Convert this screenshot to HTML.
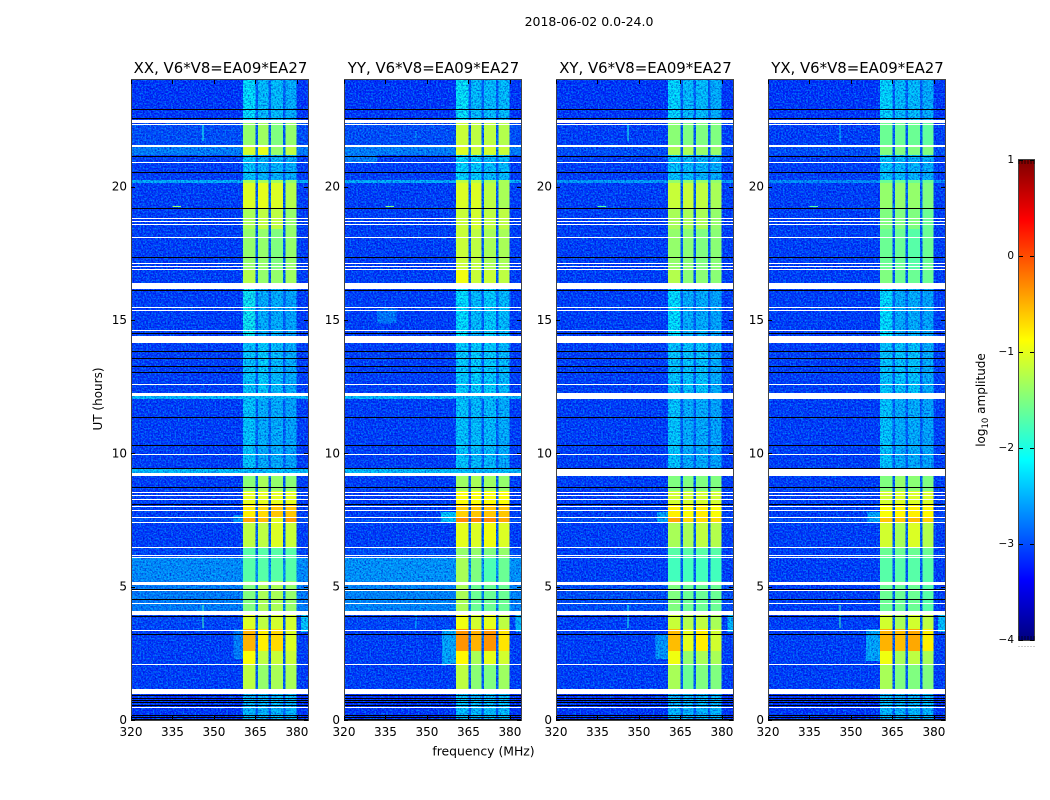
<!DOCTYPE html>
<html lang="en">
<head>
<meta charset="utf-8">
<title>2018-06-02 0.0-24.0</title>
<style>
  html, body { margin: 0; padding: 0; background: #fff; }
  svg { display: block; font-family: "DejaVu Sans", "Liberation Sans", sans-serif; fill: #000; }
  text { fill: #000; }
</style>
</head>
<body>
<svg id="chart" xmlns="http://www.w3.org/2000/svg" width="1050" height="800" viewBox="0 0 1050 800">
  <defs>
    <filter id="grain-dark" x="0" y="0" width="100%" height="100%">
      <feTurbulence type="fractalNoise" baseFrequency="0.6" numOctaves="2" seed="7"/>
      <feColorMatrix type="matrix" values="0 0 0 0 0  0 0 0 0 0  0 0 0 0 0.55  3 0 0 0 -1.2"/>
    </filter>
    <filter id="grain-light" x="0" y="0" width="100%" height="100%">
      <feTurbulence type="fractalNoise" baseFrequency="0.6" numOctaves="2" seed="23"/>
      <feColorMatrix type="matrix" values="0 0 0 0 0  0 0 0 0 0.7  0 0 0 0 1  3 0 0 0 -1.25"/>
    </filter>
  </defs>
  <rect width="1050" height="800" fill="#fff"/>
  <text x="589" y="26" font-size="12.5" text-anchor="middle">2018-06-02 0.0-24.0</text>
  <text x="483.500" y="755.500" font-size="12.4" text-anchor="middle">frequency (MHz)</text>
  <text transform="translate(102,399) rotate(-90)" font-size="12" text-anchor="middle">UT (hours)</text>
  <text transform="translate(985,400) rotate(-90)" font-size="12" text-anchor="middle">log<tspan font-size="8.500" dy="3">10</tspan><tspan dy="-3"> amplitude</tspan></text>
  <g id="panels"></g>
  <g id="colorbar"></g>
</svg>
<script>
// ---- chart data ----
var panelNames = ["XX", "YY", "XY", "YX"];
var baselineTitle = "V6*V8=EA09*EA27";
var freqTicks = [320, 335, 350, 365, 380];
var hourTicks = [0, 5, 10, 15, 20];
var colorbarTicks = [1, 0, -1, -2, -3, -4];
var colorbarLabels = ["1", "0", "\u22121", "\u22122", "\u22123", "\u22124"];
var freqRange = [320, 384];
var hourRange = [0, 24];
var levelRange = [-4, 1];
var gapLevel = -2.95;
var smoothLevel = -1.9;

// subband limits in MHz
var subbandStart = [360.5, 366, 370.7, 375.9];
var subbandEnd = [365, 369.8, 375, 379.8];

// UT row limits in hours, lowest row first
var rowEdges = [0, 1.15, 2.1, 2.6, 3.4, 4.1, 5.2, 6.1, 6.5, 7.4, 7.6, 8.05, 8.6, 9.27, 9.4, 12.05, 12.16, 14.15, 16.4, 16.9, 18.4, 19.2, 20.15, 20.25, 21.2, 21.5, 22.5, 24];

// log10 amplitude per row: background, subband 1..4 (null = flagged)
var levelsXX = [
  [-3.2,-2.4,-2.4,-2.4,-2.4],[-3.15,-1.2,-1.4,-1.3,-1.3],[-3.15,-0.9,-1.2,-1.15,-1.15],[-3.15,-0.5,-0.8,-0.7,-1.05],
  [-3.1,-1.05,-1.2,-1.1,-1.1],[-2.75,-1.5,-1.3,-1.3,-1.4],[-2.65,-1.7,-1.7,-1.7,-1.7],[-3.1,-1.7,-1.7,-1.7,-1.7],
  [-3.15,-1.2,-1.2,-1.05,-1.15],[-3.05,-0.45,-0.55,-1,-0.4],[-3.15,-0.8,-0.7,-0.6,-0.6],[-3.15,-1,-1,-1,-1],
  [-3.15,-1.45,-1.3,-1.4,-1.45],[-2.35,-2.35,-2.35,-2.35,-2.35],[-3.15,-2.3,-2.45,-2.45,-2.5],[-2.35,-2.35,-2.35,-2.35,-2.35],
  [-3.15,-2.3,-2.25,-2.35,-2.45],[-3.15,-2.05,-2.45,-2.45,-2.5],[-3.15,-1.25,-1.4,-1.4,-1.35],[-3.15,-1.4,-1.4,-1.5,-1.4],
  [-3.15,-1.3,-1.2,-1.2,-1.4],[-3.15,-1.05,-1,-1.05,-1.25],[-2.45,-1.3,-1.3,-1.3,-1.4],[-3.15,-2.3,-2.4,-2.4,-2.45],
  [-2.75,-1.1,-1,-1.4,-1.2],[-3.05,-1.4,-1.35,-1.5,-1.4],[-3.2,-2.15,-2.35,-2.35,-2.45]
];
var levelsYY = [
  [-3.2,-2.35,-2.35,-2.35,-2.35],[-3.15,-1.2,-1.45,-1.5,-1.35],[-3.15,-0.85,-1.3,-1,-1.1],[-3.15,-0.35,-0.5,-0.35,-0.75],
  [-3.1,-0.95,-1.1,-1,-1.2],[-2.7,-1.3,-1.6,-1.6,-1.6],[-2.6,-1.3,-1.5,-1.75,-1.6],[-3.05,-1.4,-1.4,-1.5,-1.4],
  [-3.15,-1,-1.05,-0.95,-1.05],[-3.05,-0.3,-0.3,-0.3,-0.45],[-3.15,-0.65,-0.6,-0.6,-0.6],[-3.15,-0.9,-0.9,-0.9,-0.9],
  [-3.15,-1.35,-1.3,-1.35,-1.4],[-2.35,-2.35,-2.35,-2.35,-2.35],[-3.15,-2.3,-2.35,-2.35,-2.45],[-2.35,-2.35,-2.35,-2.35,-2.35],
  [-3.15,-2.25,-2.25,-2.25,-2.35],[-3.15,-2.15,-2.35,-2.25,-2.35],[-3.15,-0.95,-1.15,-1.15,-1.2],[-3.15,-1.15,-1.2,-1.3,-1.3],
  [-3.15,-1.15,-1.1,-1.2,-1.2],[-3.15,-1.05,-1.05,-1.2,-1.3],[-2.45,-1.2,-1.2,-1.3,-1.3],[-3.15,-2.2,-2.25,-2.35,-2.35],
  [-2.75,-1.05,-1.15,-1.1,-1.15],[-3.05,-1.15,-1.2,-1.2,-1.25],[-3.2,-2.1,-2.35,-2.35,-2.35]
];
var levelsXY = [
  [-3.2,-2.4,-2.4,-2.4,-2.4],[-3.15,-1.3,-1.6,-1.5,-1.5],[-3.15,-0.95,-1.4,-1.3,-1.3],[-3.15,-0.55,-1,-0.8,-1.1],
  [-3.15,-1.15,-1.25,-1.2,-1.3],[-3.05,-1.5,-1.6,-1.6,-1.6],[-3.15,-1.8,-1.8,-1.8,-1.8],[-3.15,-1.7,-1.7,-1.7,-1.7],
  [-3.15,-1.3,-1.3,-1.2,-1.25],[-3.05,-0.45,-0.7,-0.7,-0.7],[-3.15,-0.8,-0.9,-0.8,-0.9],[-3.15,-1.1,-1.1,-1.1,-1.1],
  [-3.15,-1.5,-1.5,-1.5,-1.5],[null,null,null,null,null],[-3.15,-2.3,-2.45,-2.45,-2.5],[null,null,null,null,null],
  [-3.15,-2.3,-2.3,-2.3,-2.45],[-3.15,-2.15,-2.45,-2.45,-2.5],[-3.15,-1.25,-1.45,-1.45,-1.45],[-3.15,-1.4,-1.45,-1.5,-1.45],
  [-3.15,-1.3,-1.3,-1.3,-1.4],[-3.15,-1.15,-1.15,-1.2,-1.3],[-2.55,-1.4,-1.4,-1.4,-1.4],[-3.15,-2.3,-2.35,-2.4,-2.45],
  [-3.05,-1.3,-1.3,-1.4,-1.4],[-3.15,-1.45,-1.5,-1.5,-1.5],[-3.2,-2.2,-2.35,-2.35,-2.45]
];
var levelsYX = [
  [-3.2,-2.4,-2.4,-2.4,-2.4],[-3.15,-1.3,-1.5,-1.5,-1.5],[-3.15,-0.95,-1.3,-1.2,-1.3],[-3.15,-0.5,-0.55,-0.45,-0.8],
  [-3.15,-1.1,-1.3,-1.1,-1.2],[-3.15,-1.6,-1.6,-1.6,-1.7],[-3.15,-1.7,-1.7,-1.7,-1.7],[-3.15,-1.6,-1.6,-1.6,-1.6],
  [-3.15,-1.1,-1.3,-1.05,-1.25],[-3.05,-0.6,-0.6,-0.55,-0.65],[-3.15,-0.9,-0.85,-0.8,-0.85],[-3.15,-1.1,-1.05,-1.05,-1.05],
  [-3.15,-1.5,-1.4,-1.45,-1.5],[null,null,null,null,null],[-3.15,-2.3,-2.45,-2.45,-2.5],[null,null,null,null,null],
  [-3.15,-2.3,-2.3,-2.3,-2.45],[-3.15,-2.15,-2.45,-2.45,-2.5],[-3.15,-1.5,-1.6,-1.6,-1.6],[-3.15,-1.6,-1.6,-1.7,-1.6],
  [-3.15,-1.5,-1.5,-1.5,-1.6],[-3.15,-1.4,-1.4,-1.4,-1.5],[-2.65,-1.6,-1.6,-1.6,-1.6],[-3.15,-2.3,-2.35,-2.4,-2.45],
  [-3.05,-1.5,-1.5,-1.5,-1.5],[-3.15,-1.6,-1.6,-1.6,-1.65],[-3.2,-2.2,-2.35,-2.35,-2.45]
];
var panelLevels = [levelsXX, levelsYY, levelsXY, levelsYX];

// localized emission: panel, freq start, freq end, hour start, hour end, level
var patchPanel = [0,0,0,1,1,1,1,2,2,2,3,3,3,0,1,2,3,0,1,2,3,0,1,2,3,1];
var patchF0 = [357,357,381.5,355.5,355,382,332,356,356.5,382,355.5,356,381.5,345.8,345.8,345.8,345.8,345.8,345.8,345.8,345.8,335,335,335,335,320];
var patchF1 = [360.5,360.5,384,360.5,360.5,384,339,360.5,360.5,384,360.5,360.5,384,346.2,346.2,346.2,346.2,346.2,346.2,346.2,346.2,338,338,338,338,332];
var patchH0 = [2.3,7.4,3.3,2.1,7.4,3.3,14.9,2.3,7.4,3.3,2.2,7.4,3.3,3.45,3.45,3.45,3.45,21.7,21.7,21.7,21.7,19.22,19.22,19.22,19.22,20.9];
var patchH1 = [3.4,7.7,4,3.4,7.8,4,15.4,3.2,7.8,4,3.4,7.8,4,4.3,4,4.3,4.3,22.3,22.1,22.3,22.3,19.28,19.28,19.28,19.28,21.2];
var patchLevel = [-2.75,-2.6,-2.3,-2.5,-2.3,-2.4,-2.8,-2.6,-2.5,-2.4,-2.5,-2.5,-2.35,-1.8,-2.3,-2,-1.8,-2,-2.5,-2,-2.2,-1.4,-1.5,-1.7,-1.7,-2.75];

// flagged white intervals in hours
var flagStart = [22.40,22.31,21.47,20.89,18.79,18.67,18.56,18.07,17.10,16.99,16.87,16.18,15.45,15.34,14.59,14.12,12.56,12.16,9.94,9.15,8.51,8.40,8.25,8.01,7.82,7.57,7.37,6.45,6.15,6.07,5.05,4.84,4.35,3.95,3.34,2.06,0.97,0.45,0.07];
var flagEnd = [22.50,22.35,21.56,20.92,18.82,18.71,18.60,18.11,17.14,17.02,16.91,16.40,15.49,15.37,14.62,14.41,12.60,12.26,9.97,9.27,8.55,8.44,8.29,8.04,7.88,7.61,7.42,6.49,6.19,6.11,5.19,4.87,4.39,4.09,3.37,2.10,1.16,0.49,0.11];
// blank (black) scan lines in hours
var blankHours = [22.92,22.58,21.16,20.54,19.19,17.35,16.14,14.52,13.82,13.56,13.28,13.04,11.35,10.32,9.46,8.73,8.09,4.91,4.53,3.90,3.21,0.92,0.84,0.75,0.66,0.56,0.17,0.13,0.04];

// ---- layout ----
var axisLeft = [131, 344, 556, 768];
var axisWidth = 177;
var axisTop = 80;
var axisBottom = 720;
var barLeft = 1019, barWidth = 15, barTop = 160, barBottom = 640;

function svgEl(tag, attrs, parent) {
  var el = document.createElementNS("http://www.w3.org/2000/svg", tag);
  for (var k in attrs) el.setAttribute(k, attrs[k]);
  parent.appendChild(el);
  return el;
}
function clamp01(v) { return Math.max(0, Math.min(1, v)); }
function jet(level) {
  var t = clamp01((level - levelRange[0]) / (levelRange[1] - levelRange[0]));
  var r = clamp01(1.5 - Math.abs(4 * t - 3));
  var g = clamp01(1.5 - Math.abs(4 * t - 2));
  var b = clamp01(1.5 - Math.abs(4 * t - 1));
  return "rgb(" + Math.round(r * 255) + "," + Math.round(g * 255) + "," + Math.round(b * 255) + ")";
}
function hourY(h) {
  return axisBottom - (h - hourRange[0]) / (hourRange[1] - hourRange[0]) * (axisBottom - axisTop);
}
function freqX(p, f) {
  return axisLeft[p] + (f - freqRange[0]) / (freqRange[1] - freqRange[0]) * axisWidth;
}
function cell(p, parent, f0, f1, h0, h1, fill) {
  var y0 = Math.round(hourY(h1)), y1 = Math.round(hourY(h0));
  return svgEl("rect", {
    x: freqX(p, f0), width: freqX(p, f1) - freqX(p, f0),
    y: y0, height: Math.max(1, y1 - y0), fill: fill, "shape-rendering": "crispEdges"
  }, parent);
}

var panelsRoot = document.getElementById("panels");

panelNames.forEach(function (name, p) {
  var key = name.toLowerCase();
  var group = svgEl("g", {}, panelsRoot);
  
  

  var title = svgEl("text", { x: axisLeft[p] + axisWidth / 2 + 1, y: 73, "font-size": "14.9", "text-anchor": "middle" }, group);
  title.textContent = name + ", " + baselineTitle;
  
  

  var textured = svgEl("g", {}, group);
  
  

  var noiseDark = svgEl("rect", {
    x: axisLeft[p], y: axisTop, width: axisWidth, height: axisBottom - axisTop,
    filter: "url(#grain-dark)", opacity: "0.6"
  }, group);
  
  
  var noiseLight = svgEl("rect", {
    x: axisLeft[p], y: axisTop, width: axisWidth, height: axisBottom - axisTop,
    filter: "url(#grain-light)", opacity: "0.5"
  }, group);
  
  

  var smooth = svgEl("g", {}, group);
  
  

  panelLevels[p].forEach(function (row, r) {
    var h0 = rowEdges[r], h1 = rowEdges[r + 1];
    if (row[0] === null) {
      var blankRow = cell(p, smooth, freqRange[0], freqRange[1], h0, h1, "#fff");
      
      
      return;
    }
    var bg = cell(p, textured, freqRange[0], freqRange[1], h0, h1, jet(row[0]));
    
    
    var gap = cell(p, textured, subbandStart[0], subbandEnd[3], h0, h1, jet(Math.max(gapLevel, row[0])));
    
    
    subbandStart.forEach(function (start, s) {
      var isSmooth = row[s + 1] > smoothLevel;
      var sub = cell(p, isSmooth ? smooth : textured, start, subbandEnd[s], h0, h1, jet(row[s + 1]));
      
      
    });
  });

  patchPanel.forEach(function (owner, i) {
    if (owner !== p) return;
    var patch = cell(p, patchLevel[i] > smoothLevel - 0.2 ? smooth : textured, patchF0[i], patchF1[i], patchH0[i], patchH1[i], jet(patchLevel[i]));
    
    
  });

  flagStart.forEach(function (start, i) {
    var flag = cell(p, group, freqRange[0], freqRange[1], start, flagEnd[i], "#fff");
    
    
  });
  blankHours.forEach(function (h) {
    var y = Math.round(hourY(h));
    var line = svgEl("rect", { x: axisLeft[p], y: y, width: axisWidth, height: 1, fill: "#000", "shape-rendering": "crispEdges" }, group);
    
    
  });

  var frame = svgEl("rect", {
    x: axisLeft[p] + 0.5, y: axisTop - 0.5, width: axisWidth, height: axisBottom - axisTop + 1,
    fill: "none", stroke: "#444", "stroke-width": "1"
  }, group);
  
  

  freqTicks.forEach(function (f) {
    var x = Math.round(freqX(p, f)) + 0.5;
    var bottomTick = svgEl("line", { x1: x, x2: x, y1: axisBottom, y2: axisBottom - 4, stroke: "#000" }, group);
    
    
    var topTick = svgEl("line", { x1: x, x2: x, y1: axisTop, y2: axisTop + 4, stroke: "#000" }, group);
    
    
    var label = svgEl("text", { x: freqX(p, f), y: 736, "font-size": "12", "text-anchor": "middle" }, group);
    label.textContent = String(f);
    
    
  });
  hourTicks.forEach(function (h) {
    var y = Math.round(hourY(h)) + 0.5;
    var leftTick = svgEl("line", { x1: axisLeft[p], x2: axisLeft[p] + 4, y1: y, y2: y, stroke: "#000" }, group);
    
    
    var rightTick = svgEl("line", { x1: axisLeft[p] + axisWidth, x2: axisLeft[p] + axisWidth - 4, y1: y, y2: y, stroke: "#000" }, group);
    
    
    var label = svgEl("text", { x: axisLeft[p] - 4, y: hourY(h) + 4, "font-size": "12", "text-anchor": "end" }, group);
    label.textContent = String(h);
    
    
  });
});

// ---- colorbar ----
var barRoot = document.getElementById("colorbar");
function levelY(v) {
  return barBottom - (v - levelRange[0]) / (levelRange[1] - levelRange[0]) * (barBottom - barTop);
}
for (var py = barTop; py < barBottom; py++) {
  var lv = levelRange[1] - (py - barTop + 0.5) / (barBottom - barTop) * (levelRange[1] - levelRange[0]);
  var strip = svgEl("rect", { x: barLeft, y: py, width: barWidth, height: 1, fill: jet(lv), "shape-rendering": "crispEdges" }, barRoot);
  
  
}
var barFrame = svgEl("rect", { x: barLeft - 0.5, y: barTop - 0.5, width: barWidth + 1, height: barBottom - barTop + 1, fill: "none", stroke: "#444" }, barRoot);


colorbarTicks.forEach(function (v, i) {
  var y = Math.round(levelY(v)) + 0.5;
  var left = svgEl("line", { x1: barLeft, x2: barLeft + 4, y1: y, y2: y, stroke: "#000" }, barRoot);
  
  
  var right = svgEl("line", { x1: barLeft + barWidth, x2: barLeft + barWidth - 4, y1: y, y2: y, stroke: "#000" }, barRoot);
  
  
  var label = svgEl("text", { x: barLeft - 5, y: levelY(v) + 3, "font-size": "10.5", "text-anchor": "end" }, barRoot);
  label.textContent = colorbarLabels[i];
  
  
});
for (var m = 0; m <= 5; m++) {
  var mx = barLeft + m * barWidth / 5;
  var topMinor = svgEl("line", { x1: mx, x2: mx, y1: barTop, y2: barTop + 4, stroke: "#000", "stroke-width": "0.7" }, barRoot);
  
  
  var bottomMinor = svgEl("line", { x1: mx, x2: mx, y1: barBottom, y2: barBottom - 4, stroke: "#000", "stroke-width": "0.7" }, barRoot);
  
  
  var dot = svgEl("rect", { x: mx - 0.5, y: 646, width: 1, height: 1, fill: "#999" }, barRoot);
  
  
}
</script>
</body>
</html>
